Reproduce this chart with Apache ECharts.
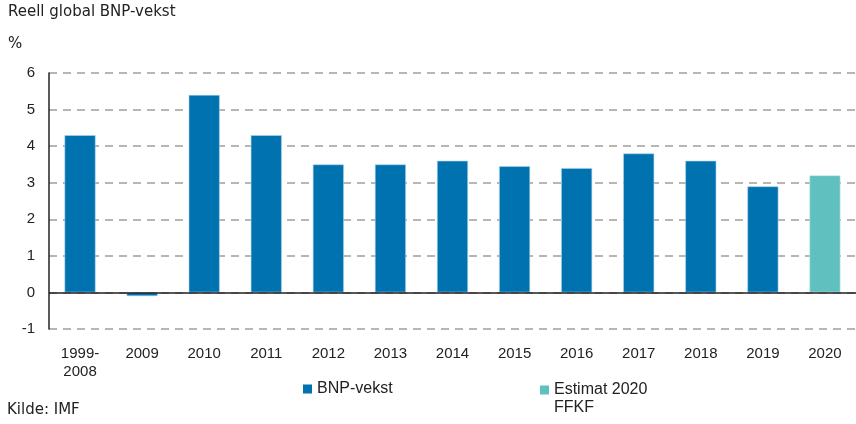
<!DOCTYPE html>
<html><head><meta charset="utf-8">
<script src="https://cdn.jsdelivr.net/npm/echarts@6/dist/echarts.min.js"></script>
<style>html,body{margin:0;padding:0;background:#fff}#c{width:856px;height:424px}</style>
</head><body><div id="c"></div>
<script>
const categories = ['1999-\n2008','2009','2010','2011','2012','2013','2014','2015','2016','2017','2018','2019','2020'];
const bnpVekst = [4.3,-0.1,5.4,4.3,3.5,3.5,3.6,3.45,3.4,3.8,3.6,2.9,null];
const estimat = [null,null,null,null,null,null,null,null,null,null,null,null,3.2];
const yTicks = {min:-1,max:6,interval:1};
const nameBNP = 'BNP-vekst';
const nameEst = 'Estimat 2020\nFFKF';

const chart = echarts.init(document.getElementById('c'));
const labelFont = 'Liberation Sans';
const titleFont = 'DejaVu Sans';
const grid = '#a59d97';
chart.setOption({
  animation:false,
  textStyle:{fontFamily:labelFont},
  title:[
    {text:'Reell global BNP-vekst',left:8,top:5,padding:0,textStyle:{fontFamily:titleFont,fontSize:15,fontWeight:'normal',color:'#222'}},
    {text:'%',left:8,top:37,padding:0,textStyle:{fontFamily:titleFont,fontSize:15,fontWeight:'normal',color:'#222'}},
    {text:'Kilde: IMF',left:7,top:403,padding:0,textStyle:{fontFamily:titleFont,fontSize:15,fontWeight:'normal',color:'#222'}}
  ],
  grid:{left:49,right:0,top:73,bottom:95,containLabel:false},
  legend:[
    {data:[nameBNP],left:303,top:381,padding:0,icon:'rect',itemWidth:9,itemHeight:9,itemGap:6,
     itemStyle:{borderWidth:0},
     textStyle:{fontFamily:labelFont,fontSize:16,color:'#222'}},
    {data:[nameEst],left:540,top:363,padding:0,icon:'rect',itemWidth:9,itemHeight:9,itemGap:6,
     itemStyle:{borderWidth:0},
     formatter:function(n){return '\n'+n;},
     textStyle:{fontFamily:labelFont,fontSize:16,color:'#222',lineHeight:18}}
  ],
  xAxis:{type:'category',data:categories,
    axisLine:{show:false},axisTick:{show:false},
    axisLabel:{fontSize:15,color:'#222',margin:16,lineHeight:18,interval:0}},
  yAxis:{type:'value',min:yTicks.min,max:yTicks.max,interval:yTicks.interval,
    axisLine:{show:true,lineStyle:{color:'#222',width:1.5}},axisTick:{show:false},
    axisLabel:{fontSize:15,color:'#222',margin:14},
    splitLine:{show:true,lineStyle:{color:grid,type:[8,6],width:1.5}}},
  series:[
    {name:nameBNP,type:'bar',data:bnpVekst,barWidth:31,barGap:'-100%',
     itemStyle:{color:'#0072b0',borderColor:'#a9d3ea',borderWidth:0.6},
     markLine:{silent:true,symbol:'none',label:{show:false},lineStyle:{color:'#222',type:'solid',width:1.5},data:[{yAxis:0}]}},
    {name:nameEst,type:'bar',data:estimat,barWidth:31,barGap:'-100%',
     itemStyle:{color:'#60c0bf',borderColor:'#c5ecec',borderWidth:0.6}}
  ]
});
</script></body></html>
